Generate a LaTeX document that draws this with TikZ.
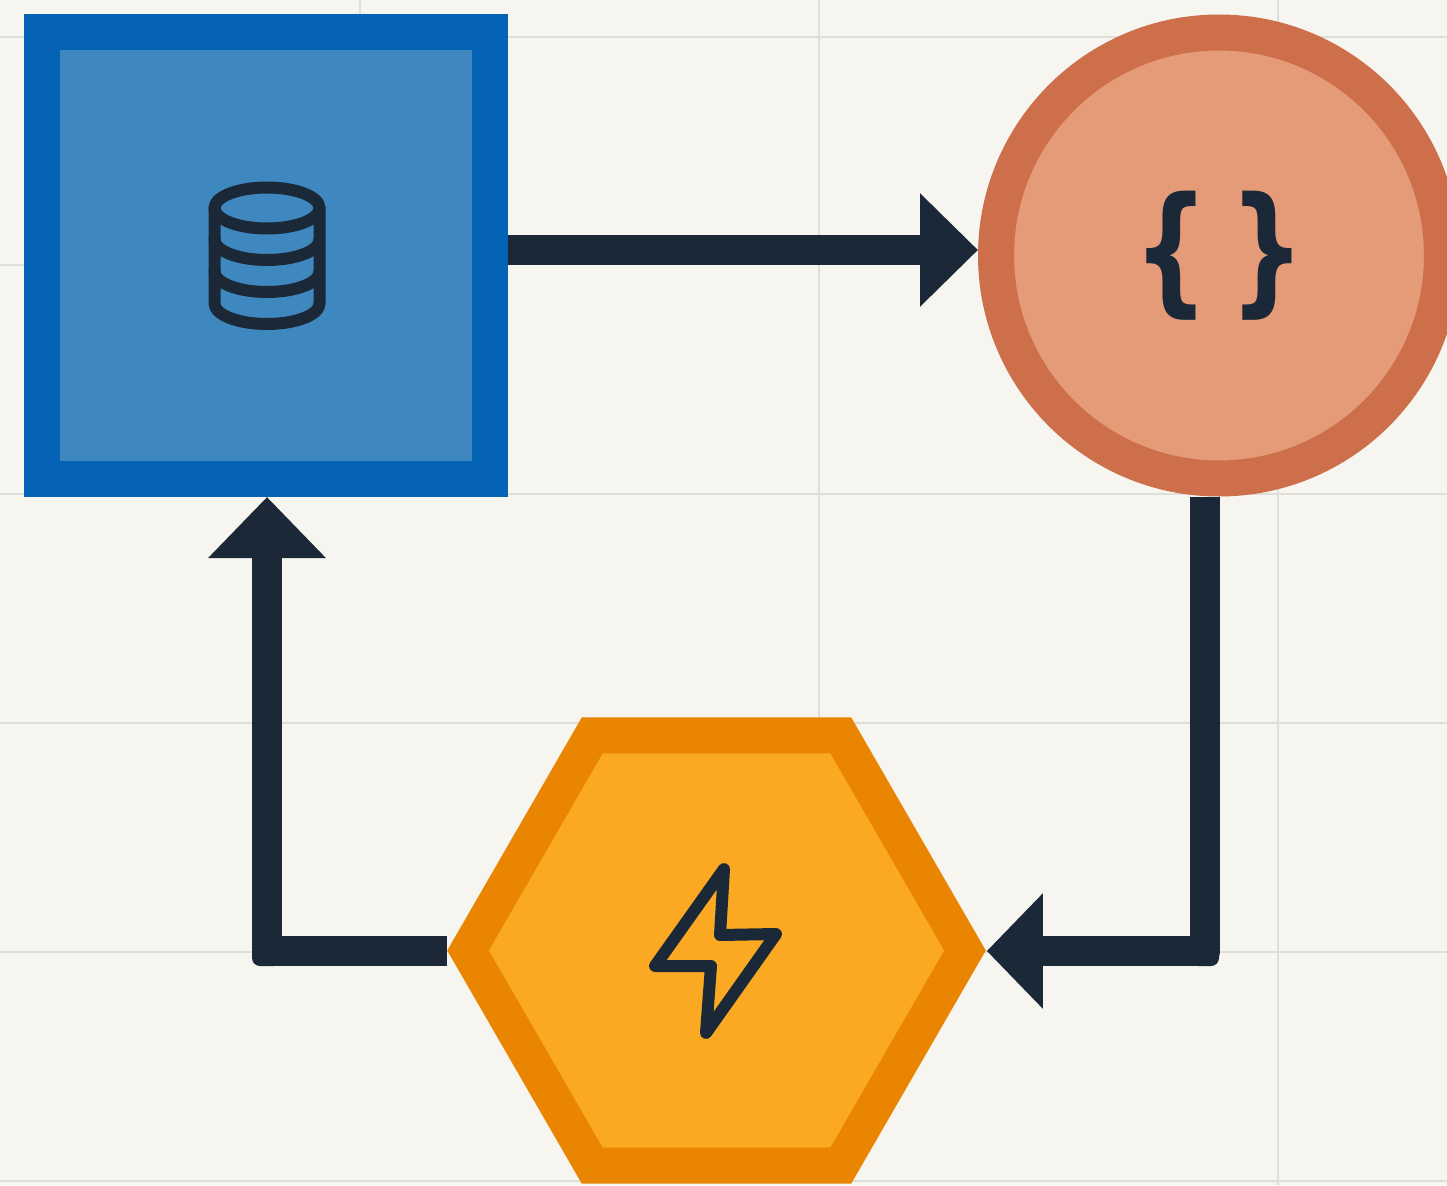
\documentclass[tikz,border=0pt]{standalone}
\usepackage{fontspec}
\setmainfont{DejaVu Sans}
\usetikzlibrary{arrows.meta,shapes.geometric}
\definecolor{bgc}{HTML}{F6F5F0}
\definecolor{gridc}{HTML}{DFDFDA}
\definecolor{inkc}{HTML}{1B2838}
\definecolor{bluee}{HTML}{0563B5}
\definecolor{bluef}{HTML}{3F88BF}
\definecolor{corale}{HTML}{CE6F4B}
\definecolor{coralf}{HTML}{E59A78}
\definecolor{ambere}{HTML}{E98500}
\definecolor{amberf}{HTML}{FBA823}
\tikzset{
  gridline/.style={draw=gridc,line width=2.6pt},
  connector/.style 2 args={draw=inkc,line width=30pt,line join=round,-{Triangle[length=#1,width=#2]}},
  elbowpatch/.style={fill=inkc,rounded corners=8pt},
  iconline/.style={draw=inkc,line width=12pt,line join=round,line cap=round},
  squarebox/.style={rectangle,draw=bluee,fill=bluef,line width=36pt,minimum width=448pt,minimum height=447pt,inner sep=0pt},
  roundbox/.style={circle,draw=corale,fill=coralf,line width=36pt,minimum size=446pt,inner sep=0pt},
  hexbox/.style={regular polygon,regular polygon sides=6,shape border rotate=0,draw=ambere,fill=amberf,line width=36pt,minimum size=497pt,inner sep=0pt}
}
\begin{document}
\begin{tikzpicture}[x=1pt,y=-1pt]
\useasboundingbox (0,0) rectangle (1447,1185);
\clip (0,0) rectangle (1447,1185);
\fill[bgc] (0,0) rectangle (1447,1185);
% grid
\foreach \gy in {37,494,723,952,1181}
  \draw[gridline] (0,\gy) -- (1447,\gy);
\draw[gridline] (0,265) -- (30,265);
\draw[gridline] (360,0) -- (360,30);
\draw[gridline] (819,0) -- (819,760);
\draw[gridline] (1278,0) -- (1278,1185);
% shapes
\node[squarebox] (store) at (266,255.5) {};
\node[roundbox] (code) at (1219,255.5) {};
\node[hexbox] (power) at (716.5,950.5) {};
% connectors
\draw[connector={58pt}{110pt}] ([yshift=5.5pt]store.east) -- ([yshift=5.5pt]code.west);
\coordinate (elbowA) at (1205,951);
\coordinate (elbowB) at (267,951);
\draw[connector={56pt}{112pt}] ([xshift=-14pt]code.south) -- (elbowA) -- ([xshift=1pt,yshift=-0.5pt]power.east);
\draw[connector={61pt}{114pt}] ([yshift=-0.5pt]power.west) -- (elbowB) -- ([xshift=1pt]store.south);
\fill[elbowpatch] (1190,936) rectangle (1219,966);
\fill[elbowpatch] (252,936) rectangle (282,966);
% database icon
\begin{scope}[iconline]
  \draw (267,208) ellipse [x radius=52.5,y radius=20.5];
  \draw (214.5,208) -- (214.5,303.5) arc [start angle=180,end angle=360,x radius=52.5,y radius=-20.5] -- (319.5,208);
  \draw (214.5,239.5) arc [start angle=180,end angle=360,x radius=52.5,y radius=-20.5];
  \draw (214.5,271.5) arc [start angle=180,end angle=360,x radius=52.5,y radius=-20.5];
\end{scope}
% braces
\node[text=inkc,font=\fontsize{140pt}{140pt}\selectfont\bfseries,inner sep=0pt] (braces) at (1219.5,256)
  {\scalebox{.76}[1]{\{}\hspace{20pt}\scalebox{.76}[1]{\}}};
% bolt icon
\draw[iconline] (724,869) -- (720,935) -- (776,934) -- (706,1033) -- (711,966) -- (655,966) -- cycle;
\end{tikzpicture}
\end{document}
